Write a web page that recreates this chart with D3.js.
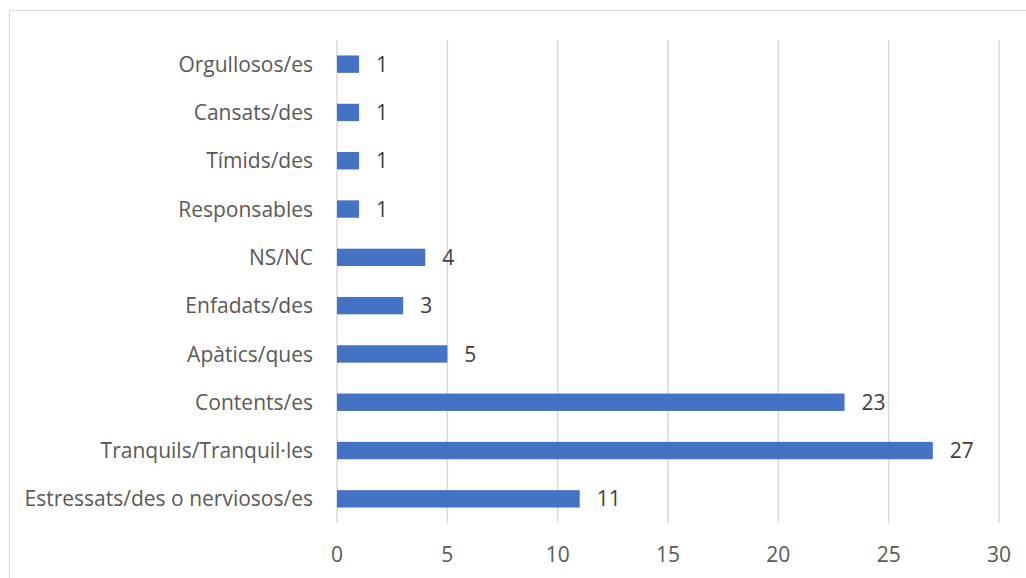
<!DOCTYPE html>
<html>
<head>
<meta charset="utf-8">
<script src="https://cdn.jsdelivr.net/npm/d3@7"></script>
<style>
  body { margin: 0; background: #fff; }
  text { font-family: "Open Sans", "Noto Sans", sans-serif; }
</style>
</head>
<body>
<div id="chart"></div>
<script>
const width = 1026;
const height = 578;

// Categories from top to bottom and their counts
const categories = [
  "Orgullosos/es",
  "Cansats/des",
  "Tímids/des",
  "Responsables",
  "NS/NC",
  "Enfadats/des",
  "Apàtics/ques",
  "Contents/es",
  "Tranquils/Tranquil·les",
  "Estressats/des o nerviosos/es"
];
const values = [1, 1, 1, 1, 4, 3, 5, 23, 27, 11];
const xTicks = [0, 5, 10, 15, 20, 25, 30];

const data = categories.map((c, i) => ({ name: c, value: values[i] }));

const svg = d3.select("#chart").append("svg")
    .attr("width", width)
    .attr("height", height)
    .attr("viewBox", [0, 0, width, height]);

// chart area border (only top and left visible in the crop)
svg.append("rect")
    .attr("x", 9.5)
    .attr("y", 10.5)
    .attr("width", 1030)
    .attr("height", 600)
    .attr("fill", "none")
    .attr("stroke", "#d9d9d9");

const x = d3.scaleLinear().domain([0, 30]).range([337, 999]);
const y = d3.scaleBand().domain(categories).range([40, 523]).paddingInner(0.64).paddingOuter(0.32);

// vertical gridlines
svg.append("g").selectAll("line")
    .data(xTicks)
    .enter().append("line")
    .attr("x1", d => x(d))
    .attr("x2", d => x(d))
    .attr("y1", 40)
    .attr("y2", 523)
    .attr("stroke", "#d9d9d9")
    .attr("stroke-width", 1.5);

// x tick labels
svg.append("g").selectAll("text")
    .data(xTicks)
    .enter().append("text")
    .attr("x", d => x(d))
    .attr("y", 562)
    .attr("text-anchor", "middle")
    .style("font-size", "21px")
    .style("fill", "#595959")
    .text(d => d);

// bars
svg.append("g").selectAll("rect")
    .data(data)
    .enter().append("rect")
    .attr("x", x(0))
    .attr("y", d => y(d.name))
    .attr("width", d => x(d.value) - x(0))
    .attr("height", y.bandwidth())
    .attr("fill", "#4472c4");

// value labels
svg.append("g").selectAll("text")
    .data(data)
    .enter().append("text")
    .attr("x", d => x(d.value) + 17)
    .attr("y", d => y(d.name) + y.bandwidth() / 2)
    .attr("dy", "0.36em")
    .style("font-size", "21px")
    .style("fill", "#404040")
    .text(d => d.value);

// category labels
svg.append("g").selectAll("text")
    .data(data)
    .enter().append("text")
    .attr("x", 313)
    .attr("y", d => y(d.name) + y.bandwidth() / 2)
    .attr("dy", "0.36em")
    .attr("text-anchor", "end")
    .style("font-size", "21px")
    .style("fill", "#595959")
    .text(d => d.name);
</script>
</body>
</html>
